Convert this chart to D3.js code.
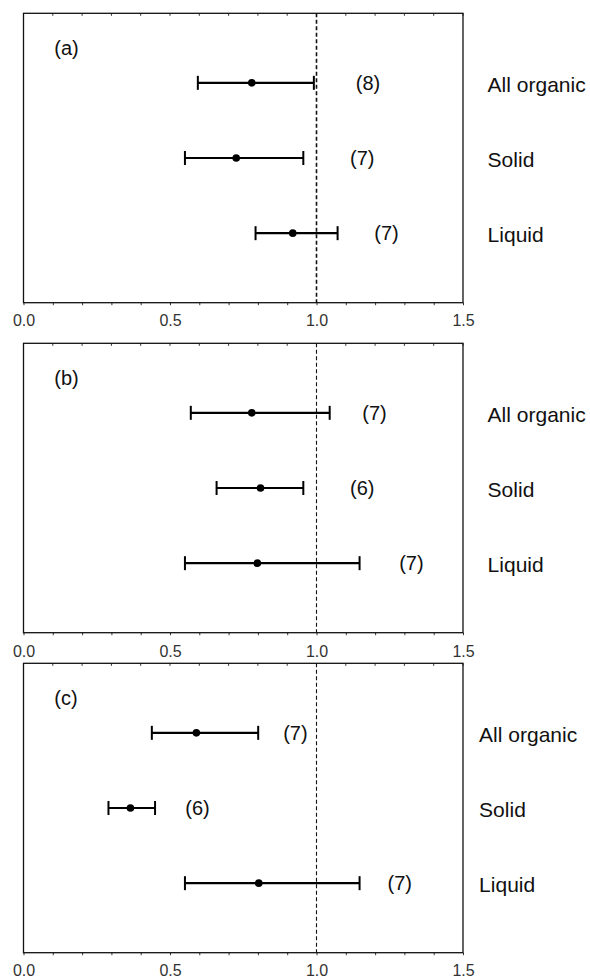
<!DOCTYPE html>
<html><head><meta charset="utf-8">
<script src="https://cdn.jsdelivr.net/npm/d3@7"></script>
<style>body{margin:0;background:#fff}svg{display:block}text{font-family:"Liberation Sans",Arial,Helvetica,sans-serif}</style>
</head><body><svg id="c" width="590" height="979"></svg>
<script>
const panels = ["(a)", "(b)", "(c)"];
const categories = ["All organic", "Solid", "Liquid"];
// mean, lower, upper per panel
const means = [[0.779, 0.726, 0.919], [0.779, 0.809, 0.798], [0.590, 0.365, 0.803]];
const lows  = [[0.595, 0.551, 0.792], [0.571, 0.659, 0.551], [0.438, 0.290, 0.551]];
const highs = [[0.991, 0.955, 1.072], [1.045, 0.955, 1.147], [0.801, 0.449, 1.147]];
const counts = [["(8)", "(7)", "(7)"], ["(7)", "(6)", "(7)"], ["(7)", "(6)", "(7)"]];
const countPos = [[1.176, 1.156, 1.239], [1.198, 1.156, 1.324], [0.928, 0.594, 1.284]];
const catLabelPos = [1.584, 1.584, 1.555];
const tickLabels = ["0.0", "0.5", "1.0", "1.5"];
const refValue = 1.0;

const svg = d3.select("#c");
const x = d3.scaleLinear().domain([0, 1.5]).range([23.5, 463]);
const tops = [13.3, 343.3, 663.3];
const H = 289.4;
const dashW = [1.6, 1.1, 1.1];

panels.forEach((p, i) => {
  const g = svg.append("g").attr("transform", `translate(0,${tops[i]})`);
  const y = d3.scaleLinear().domain([0.075, 3.925]).range([0, H]);
  const minor = d3.range(0, 15.5).map(k => k / 10);
  g.selectAll(".tt").data(minor).join("line")
    .attr("x1", d => x(d)).attr("x2", d => x(d)).attr("y1", 0).attr("y2", 2.5)
    .attr("stroke", "#333").attr("stroke-width", 1);
  const ax = d3.axisBottom(x).tickValues(minor).tickSize(2.5).tickFormat("");
  const axg = g.append("g").attr("transform", `translate(0,${H})`).call(ax);
  axg.select(".domain").remove();
  axg.selectAll(".tick line").attr("stroke", "#333");
  const lab = d3.axisBottom(x).tickValues(tickLabels.map(Number)).tickSize(0).tickPadding(0)
    .tickFormat((d, j) => tickLabels[j]);
  const lg = g.append("g").attr("transform", `translate(0,${H + (i === 1 ? 13 : 11.5)})`).call(lab);
  lg.select(".domain").remove();
  lg.selectAll("text").attr("font-size", 16).attr("fill", "#333").attr("font-family", "Liberation Sans, Arial, sans-serif");
  g.append("rect").attr("x", x(0)).attr("y", 0).attr("width", x(1.5) - x(0)).attr("height", H)
    .attr("fill", "none").attr("stroke", "#111").attr("stroke-width", 1.3);
  g.append("line").attr("x1", x(refValue)).attr("x2", x(refValue)).attr("y1", 0).attr("y2", H)
    .attr("stroke", "#111").attr("stroke-width", dashW[i]).attr("stroke-dasharray", "4,2.5");
  g.append("text").attr("x", x(0.105)).attr("y", 34.5).attr("dy", "0.35em")
    .attr("font-size", 20).attr("fill", "#111").text(p);
  categories.forEach((c, j) => {
    const yy = y(j + 1);
    g.append("line").attr("x1", x(lows[i][j])).attr("x2", x(highs[i][j])).attr("y1", yy).attr("y2", yy)
      .attr("stroke", "#000").attr("stroke-width", 2.2);
    [lows[i][j], highs[i][j]].forEach(v => {
      g.append("line").attr("x1", x(v)).attr("x2", x(v)).attr("y1", yy - 7).attr("y2", yy + 7)
        .attr("stroke", "#000").attr("stroke-width", 2);
    });
    g.append("circle").attr("cx", x(means[i][j])).attr("cy", yy).attr("r", 3.8).attr("fill", "#000");
    g.append("text").attr("x", x(countPos[i][j])).attr("y", yy).attr("dy", "0.35em")
      .attr("text-anchor", "middle").attr("font-size", 20).attr("fill", "#111").text(counts[i][j]);
    g.append("text").attr("x", x(catLabelPos[i])).attr("y", yy + 1.5).attr("dy", "0.35em")
      .attr("font-size", 21).attr("fill", "#111").text(c);
  });
});
</script></body></html>
